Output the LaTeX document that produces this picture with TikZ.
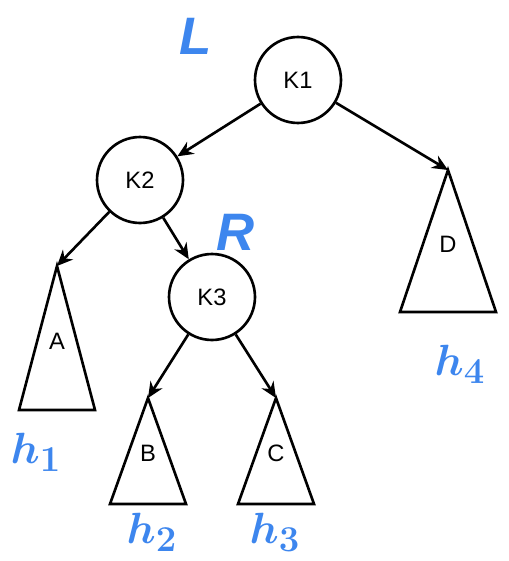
\documentclass[tikz,border=0pt]{standalone}
\usepackage{fontspec}
\setmainfont{Liberation Sans}
\usetikzlibrary{arrows.meta, positioning}
\definecolor{handblue}{HTML}{3D86EE}

\begin{document}
\begin{tikzpicture}[
  x=0.02cm, y=-0.02cm,
  key/.style={draw, circle, line width=1.5pt, minimum size=1.72cm,
    inner sep=0pt, font=\fontsize{13.5}{15}\selectfont},
  sub/.style={line width=1.5pt, line join=miter},
  edge/.style={line width=1.5pt, -{Stealth[length=9pt, width=8pt]}},
  hand/.style={handblue, font=\fontsize{30}{30}\selectfont\bfseries\itshape\boldmath},
  >=Stealth
]
  \useasboundingbox (0,0) rectangle (509,561);

  % Keys
  \node[key] (k1) at (298, 80) {K1};
  \node[key] (k2) at (140, 180) {K2};
  \node[key] (k3) at (212, 297) {K3};

  % Subtrees
  \foreach \n/\x/\y/\h/\w in {A/57/266/144/38, B/148/398/106/38, C/276/398/106/38, D/448/170/142/48} {
    \coordinate (\n top) at (\x, \y);
    \draw[sub] (\n top) -- ++(-\w, \h) -- ++(2*\w, 0) -- cycle;
    \node[font=\fontsize{13.5}{15}\selectfont] (\n) at (\x, \y+0.52*\h) {\n};
  }

  % Links
  \draw[edge] (k1) -- (k2);
  \draw[edge] (k1) -- (Dtop);
  \draw[edge] (k2) -- (Atop);
  \draw[edge] (k2) -- (k3);
  \draw[edge] (k3) -- (Btop);
  \draw[edge] (k3) -- (Ctop);

  % Handwritten notes
  \node[hand] (l) at (196, 36) {L};
  \node[hand] (r) at (236, 232) {R};
  \node[hand] (h1) at (36, 452) {$h_{1}$};
  \node[hand] (h2) at (152, 532) {$h_{2}$};
  \node[hand] (h3) at (275, 532) {$h_{3}$};
  \node[hand] (h4) at (460, 364) {$h_{4}$};
\end{tikzpicture}
\end{document}
